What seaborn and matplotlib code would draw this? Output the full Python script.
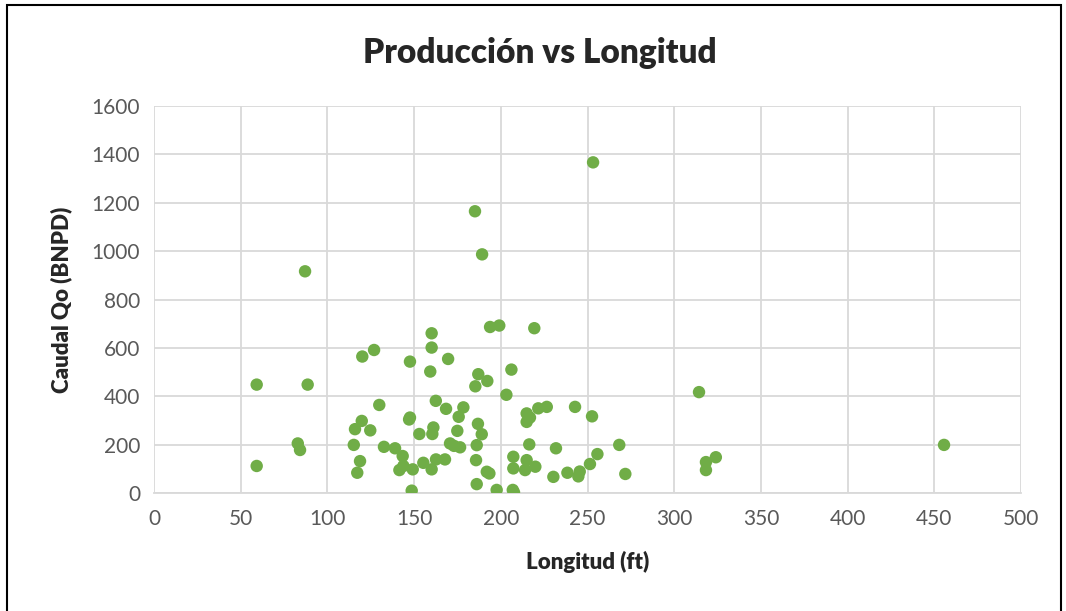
import matplotlib
matplotlib.use("Agg")
import matplotlib.pyplot as plt
import seaborn as sns
import pandas as pd
from matplotlib.patches import Rectangle

# Longitud (ft) y caudal Qo (BNPD)
longitud = [
    59.2, 59.2, 87.1, 88.6, 82.9, 84.2, 115.2, 115.9, 117.2, 118.8,
    119.8, 120.1, 124.7, 126.9, 129.9, 132.6, 139.0, 141.5, 143.4, 143.8,
    147.6, 147.1, 147.6, 148.6, 149.2, 153.0, 155.3, 160.1, 160.1, 159.3,
    162.5, 161.1, 160.5, 160.1, 162.6, 167.8, 168.4, 169.6, 170.7, 173.0,
    176.5, 174.9, 175.7, 178.4, 186.1, 185.7, 186.1, 185.3, 187.0, 192.2,
    186.8, 189.0, 185.1, 189.2, 191.9, 193.4, 193.8, 199.1, 197.6, 203.2,
    206.1, 207.2, 207.2, 206.9, 207.6, 214.9, 214.9, 216.8, 214.9, 214.0,
    219.9, 216.4, 219.3, 221.6, 226.5, 230.3, 231.8, 238.4, 242.8, 245.5,
    244.7, 251.4, 253.2, 252.6, 255.7, 268.3, 271.8, 314.3, 318.3, 318.3,
    324.0, 455.6,
]
caudal = [
    113, 449, 917, 449, 206, 179, 200, 265, 85, 133,
    299, 565, 260, 592, 365, 192, 186, 96, 154, 113,
    544, 305, 313, 11, 99, 245, 126, 661, 602, 503,
    382, 272, 245, 99, 140, 140, 349, 555, 206, 196,
    190, 258, 316, 355, 199, 137, 38, 442, 492, 464,
    287, 244, 1165, 987, 89, 82, 687, 693, 14, 407,
    511, 151, 103, 14, 4, 330, 295, 313, 137, 96,
    110, 202, 682, 351, 357, 68, 186, 85, 357, 90,
    70, 121, 1367, 318, 162, 200, 80, 418, 129, 96,
    149, 200,
]

x_ticks = [0, 50, 100, 150, 200, 250, 300, 350, 400, 450, 500]
y_ticks = [0, 200, 400, 600, 800, 1000, 1200, 1400, 1600]

df = pd.DataFrame({"Longitud": longitud, "Caudal": caudal})

sns.set_style("white")
plt.rcParams["font.family"] = ["Lato", "DejaVu Sans"]

fig = plt.figure(figsize=(10.66, 6.11), dpi=100)
ax = fig.add_axes([0.1445, 0.1926, 0.8133, 0.634])

sns.scatterplot(data=df, x="Longitud", y="Caudal", ax=ax, color="#70AD47",
                s=80, edgecolor="none", zorder=3)

ax.set_xlim(0, 500)
ax.set_ylim(0, 1600)
ax.set_xticks(x_ticks)
ax.set_yticks(y_ticks)
ax.grid(True, color="#D9D9D9", linewidth=1.3)
ax.set_axisbelow(True)
for side in ["top", "right", "left"]:
    ax.spines[side].set_visible(False)
ax.spines["bottom"].set_color("#D9D9D9")
ax.spines["bottom"].set_linewidth(1.3)
ax.tick_params(axis="x", length=0, labelsize=15, labelcolor="#595959", pad=11)
ax.tick_params(axis="y", length=0, labelsize=15, labelcolor="#595959", pad=10)

ax.set_xlabel("Longitud (ft)", fontsize=16, fontweight="heavy", labelpad=16)
ax.set_ylabel("Caudal Qo (BNPD)", fontsize=16, fontweight="heavy", labelpad=14)
fig.text(0.506, 0.913, "Producción vs Longitud", ha="center", va="center",
         fontsize=24, fontweight="heavy")

# marco negro alrededor de la figura
fig.patches.append(Rectangle((7 / 1066, -0.05), 1054 / 1066, 1.05 - 5 / 611,
                             transform=fig.transFigure, fill=False,
                             edgecolor="black", linewidth=1.5))

fig.savefig("out.png", dpi=100)
